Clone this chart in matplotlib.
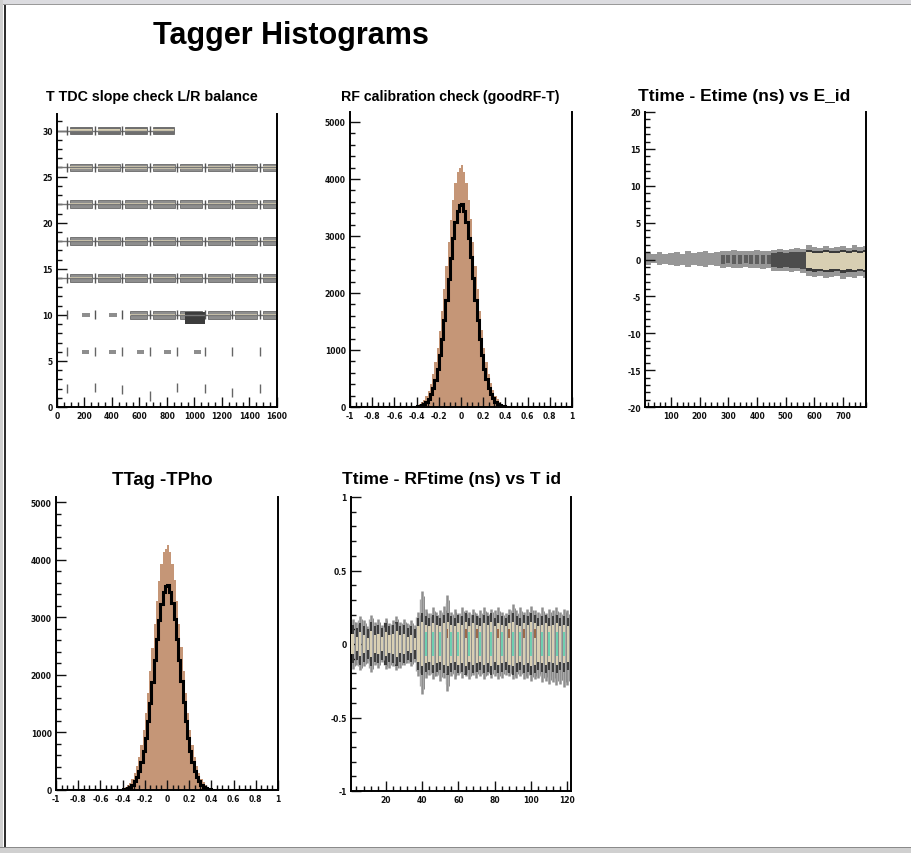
import numpy as np
import matplotlib
matplotlib.use("Agg")
import matplotlib.pyplot as plt
from matplotlib.patches import Rectangle
from matplotlib.ticker import MultipleLocator, FuncFormatter

W, H = 912, 854

# ---------------- data ----------------
# RF calibration check / TTag - TPho : 50 bins of 0.02 between -0.5 and 0.5
hist_edges = np.linspace(-0.5, 0.5, 51)
tan_counts = [2, 4, 7, 12, 20, 33, 53, 84, 130, 196,
              288, 412, 575, 782, 1037, 1339, 1686, 2069, 2475, 2886,
              3280, 3634, 3924, 4129, 4190, 4250, 4130, 3930, 3640, 3290,
              2890, 2480, 2075, 1690, 1345, 1040, 785, 578, 415, 290,
              198, 132, 85, 54, 34, 21, 12, 7, 4, 2]
line_counts = [0, 1, 2, 3, 6, 11, 20, 35, 58, 94,
               148, 226, 335, 482, 672, 909, 1194, 1520, 1879, 2253,
               2621, 2958, 3239, 3441, 3546, 3560, 3445, 3245, 2965, 2630,
               2260, 1885, 1525, 1198, 912, 675, 485, 337, 228, 150,
               95, 59, 36, 21, 12, 6, 3, 2, 1, 0]

# T TDC slope check L/R balance
tdc_rows = [30, 26, 22, 18, 14, 10]
tdc_row_start = [0, 0, 0, 0, 0, 530]
tdc_row_end = [850, 1600, 1600, 1600, 1600, 1600]
tdc_block_x = [95, 295, 495, 695, 895, 1095, 1295, 1495]
tdc_marker_x = [75, 275, 475, 675, 875, 1075, 1275, 1475]
tdc_marker_y2 = [2.0, 2.1, 1.9, 1.2, 2.1, 2.0, 1.6, 2.0]
tdc_dash6_x = [180, 380, 580, 780, 1000]
tdc_dash10_x = [180, 380]
tdc_dark_x = [930, 1080]

# Ttime - Etime (ns) vs E_id
et_x = list(range(20, 781, 20))
et_hi = [0.9, 0.7, 1.0, 0.8, 0.9, 1.0, 0.8, 1.1, 0.9, 1.0, 1.1, 0.9, 1.0,
         1.2, 1.1, 1.3, 1.2, 1.1, 1.2, 1.3, 1.2, 1.1,
         1.3, 1.4, 1.3, 1.4, 1.5, 1.4,
         1.9, 1.7, 1.6, 1.8, 1.6, 1.7, 1.8, 1.6, 1.9, 1.7, 1.8]
et_lo = [-0.7, -0.5, -0.8, -0.6, -0.7, -0.9, -0.7, -1.0, -0.8, -0.9, -1.0, -0.8, -0.9,
         -1.1, -1.0, -1.2, -1.1, -1.0, -1.2, -1.1, -1.3, -1.2,
         -1.5, -1.6, -1.5, -1.7, -1.6, -1.8,
         -2.2, -2.4, -2.3, -2.5, -2.4, -2.3, -2.6, -2.4, -2.5, -2.3, -2.5]
et_level = [0, 0, 0, 0, 0, 0, 0, 0, 0, 0, 0, 0, 0,
            1, 1, 1, 1, 1, 1, 1, 1, 1,
            2, 2, 2, 2, 2, 2,
            3, 3, 3, 3, 3, 3, 3, 3, 3, 3, 3]

# Ttime - RFtime (ns) vs T id
rf_id = list(range(2, 121, 2))
rf_hi = [0.17, 0.15, 0.19, 0.16, 0.12, 0.20, 0.15, 0.17, 0.13, 0.18,
         0.14, 0.16, 0.19, 0.15, 0.17, 0.14, 0.16, 0.13,
         0.22, 0.36, 0.24, 0.21, 0.25, 0.22, 0.23, 0.26, 0.33, 0.22,
         0.24, 0.21, 0.25, 0.23, 0.22, 0.24, 0.21, 0.23, 0.25, 0.22,
         0.24, 0.23, 0.25, 0.22, 0.21, 0.24, 0.27, 0.23, 0.25, 0.22,
         0.24, 0.26, 0.23, 0.22, 0.25, 0.21, 0.24, 0.23, 0.25, 0.22,
         0.24, 0.23]
rf_lo = [-0.17, -0.14, -0.18, -0.15, -0.13, -0.19, -0.14, -0.16, -0.12, -0.17,
         -0.16, -0.15, -0.18, -0.16, -0.14, -0.13, -0.15, -0.12,
         -0.22, -0.34, -0.23, -0.21, -0.24, -0.22, -0.25, -0.23, -0.32, -0.22,
         -0.24, -0.21, -0.23, -0.22, -0.24, -0.21, -0.23, -0.22, -0.24, -0.21,
         -0.23, -0.22, -0.24, -0.23, -0.21, -0.22, -0.24, -0.23, -0.22, -0.24,
         -0.23, -0.25, -0.24, -0.23, -0.26, -0.25, -0.27, -0.26, -0.28, -0.27,
         -0.29, -0.28]
rf_core = [0.07, 0.05, 0.08, 0.06, 0.04, 0.09, 0.06, 0.07, 0.05, 0.08,
           0.06, 0.07, 0.09, 0.06, 0.07, 0.05, 0.06, 0.04,
           0.12, 0.15, 0.13, 0.12, 0.14, 0.13, 0.12, 0.14, 0.15, 0.13,
           0.12, 0.14, 0.13, 0.15, 0.12, 0.14, 0.13, 0.12, 0.14, 0.13,
           0.15, 0.12, 0.14, 0.13, 0.12, 0.14, 0.15, 0.13, 0.12, 0.14,
           0.13, 0.15, 0.14, 0.12, 0.13, 0.14, 0.12, 0.13, 0.14, 0.12,
           0.13, 0.12]
rf_teal_id = [42, 46, 50, 56, 60, 66, 72, 78, 84, 90, 94, 100, 106, 110, 114, 118]
rf_brown_id = [54, 64, 70, 82, 88, 96, 102]

GRAY = "#8e8e8e"
BEIGE = "#d8cfb3"
TAN = "#c59677"
TITLE_FONT = ["Liberation Sans", "DejaVu Sans"]

fig = plt.figure(figsize=(W / 100, H / 100), dpi=100)
fig.patch.set_facecolor("white")


def px_axes(l, t, r, b):
    return fig.add_axes([l / W, 1 - b / H, (r - l) / W, (b - t) / H])


def fmt(v, _):
    v = round(v, 3)
    if v == 0:
        return "0"
    return f"{v:g}"


def root_style(ax, xmaj, xmin, ymaj, ymin):
    ax.spines["top"].set_visible(False)
    for s in ["left", "bottom", "right"]:
        ax.spines[s].set_linewidth(1.4)
    ax.xaxis.set_major_locator(MultipleLocator(xmaj))
    ax.xaxis.set_minor_locator(MultipleLocator(xmin))
    ax.yaxis.set_major_locator(MultipleLocator(ymaj))
    ax.yaxis.set_minor_locator(MultipleLocator(ymin))
    ax.xaxis.set_major_formatter(FuncFormatter(fmt))
    ax.yaxis.set_major_formatter(FuncFormatter(fmt))
    ax.tick_params(which="both", direction="in", top=False, right=False,
                   width=1, labelsize=5.5, pad=3, colors="#111111")
    ax.tick_params(which="major", length=7)
    ax.tick_params(which="minor", length=3.5)
    for lab in ax.get_xticklabels() + ax.get_yticklabels():
        lab.set_fontweight("bold")


def histo_panel(ax):
    centres = (hist_edges[:-1] + hist_edges[1:]) / 2
    ax.bar(centres, tan_counts, width=0.02, color=TAN, lw=0, zorder=1)
    ax.stairs(line_counts, hist_edges, color="black", lw=2.2, zorder=2)
    ax.plot([-1, hist_edges[0]], [0, 0], color="black", lw=2.2)
    ax.plot([hist_edges[-1], 1], [0, 0], color="black", lw=2.2)
    ax.set_xlim(-1, 1)
    root_style(ax, 0.2, 0.05, 1000, 200)


# ---- panel 1: T TDC slope check
ax1 = px_axes(57, 115, 277, 408)
for r, x0, x1 in zip(tdc_rows, tdc_row_start, tdc_row_end):
    fc = "#6e6e6e" if r == 30 else GRAY
    ax1.hlines(r, x0, x1, color="#777777", lw=1)
    for b in tdc_block_x:
        if b + 160 > x0 and b < x1:
            s = max(b, x0)
            w = min(b + 160, x1) - s
            ax1.add_patch(Rectangle((s, r - 0.42), w, 0.84, fc=fc, ec="#555555", lw=0.5))
            ax1.add_patch(Rectangle((s, r - 0.12), w, 0.24, fc=BEIGE, lw=0))
    for m in tdc_marker_x:
        if m < x1:
            ax1.vlines(m, r - 0.5, r + 0.5, color="#555555", lw=1)
for d in tdc_dash10_x:
    ax1.add_patch(Rectangle((d, 9.75), 60, 0.5, fc=GRAY, lw=0))
ax1.add_patch(Rectangle((tdc_dark_x[0], 9.0), tdc_dark_x[1] - tdc_dark_x[0], 1.3, fc="#3c3c3c", lw=0))
for d in tdc_dash6_x:
    ax1.add_patch(Rectangle((d, 5.8), 50, 0.4, fc=GRAY, lw=0))
ax1.vlines(tdc_marker_x, 5.5, 6.5, color="#666666", lw=1)
ax1.vlines(tdc_marker_x, np.array(tdc_marker_y2) - 0.5, np.array(tdc_marker_y2) + 0.5,
           color="#666666", lw=1)
ax1.set_xlim(0, 1600)
ax1.set_ylim(0, 31.8)
root_style(ax1, 200, 50, 5, 1)

# ---- panel 2: RF calibration check
ax2 = px_axes(350, 113, 572, 408)
histo_panel(ax2)
ax2.set_ylim(0, 5175)

# ---- panel 3: Ttime - Etime vs E_id
ax3 = px_axes(645, 113, 866, 408)
ex = np.array(et_x)
ehi = np.array(et_hi)
elo = np.array(et_lo)
lvl = np.array(et_level)
ax3.bar(ex, ehi - elo, bottom=elo, width=20, color="#979797", lw=0)
m1 = lvl == 1
ax3.bar(ex[m1], (ehi[m1] - elo[m1]) * 0.5, bottom=elo[m1] * 0.5, width=14, color="#5e5e5e", lw=0)
m2 = lvl == 2
ax3.bar(ex[m2], (ehi[m2] - elo[m2]) * 0.7, bottom=elo[m2] * 0.7, width=20, color="#4c4c4c", lw=0)
m3 = lvl == 3
ax3.bar(ex[m3], (ehi[m3] - elo[m3]) * 0.68, bottom=elo[m3] * 0.68, width=20, color="#3a3a3a", lw=0)
ax3.bar(ex[m3], (ehi[m3] - elo[m3]) * 0.55, bottom=elo[m3] * 0.55, width=20, color=BEIGE, lw=0)
ax3.set_xlim(9, 780)
ax3.set_ylim(-20, 20)
root_style(ax3, 100, 20, 5, 1)

# ---- panel 4: TTag - TPho
ax4 = px_axes(56, 498, 278, 791)
histo_panel(ax4)
ax4.set_ylim(0, 5090)

# ---- panel 5: Ttime - RFtime vs T id
ax5 = px_axes(351, 498, 571, 792)
rid = np.array(rf_id)
core = np.array(rf_core)
lo = np.array(rf_lo)
hi = np.array(rf_hi)
ax5.vlines(rid, lo, hi, color=GRAY, lw=1.8, zorder=1)
ax5.vlines(rid - 1, lo * 0.85, hi * 0.85, color="#a8a8a8", lw=1.0, zorder=1)
ax5.bar(rid, 2 * (core + 0.06), bottom=-(core + 0.06), width=1.3, color="#3d3d3d", lw=0, zorder=3)
ax5.bar(rid, 2 * core, bottom=-core, width=1.5, color=BEIGE, lw=0, zorder=4)
ax5.bar(rf_teal_id, 0.16, bottom=-0.08, width=1.2, color="#6fcfb0", lw=0, zorder=5)
ax5.bar(rf_brown_id, 0.06, bottom=0.04, width=1.2, color="#9c6a48", lw=0, zorder=5)
ax5.vlines(rid + 1, lo * 0.9, hi * 0.9, color="#8a8a8a", lw=0.7, zorder=6)
ax5.set_xlim(1, 122)
ax5.set_ylim(-1, 1)
root_style(ax5, 20, 4, 0.5, 0.1)

# ---- titles
fig.text(291 / W, 1 - 36 / H, "Tagger Histograms", ha="center", va="center",
         fontsize=22, fontweight="bold", family=TITLE_FONT)
titles = [("T TDC slope check L/R balance", 152, 97, 10.3),
          ("RF calibration check (goodRF-T)", 450, 97, 10.2),
          ("Ttime - Etime (ns) vs E_id", 744, 97, 12.5),
          ("TTag -TPho", 162, 481, 13.3),
          ("Ttime - RFtime (ns) vs T id", 452, 480, 12.6)]
for txt, x, y, fs in titles:
    fig.text(x / W, 1 - y / H, txt, ha="center", va="center",
             fontsize=fs, fontweight="bold", family=TITLE_FONT)

# ---- window frame
fig.add_artist(Rectangle((0, 1 - 5 / H), 1, 5 / H, transform=fig.transFigure,
                         fc="#dcdce0", ec="none"))
fig.add_artist(Rectangle((0, 1 - 6 / H), 1, 1 / H, transform=fig.transFigure,
                         fc="#9a9a9a", ec="none"))
fig.add_artist(Rectangle((0, 0), 3 / W, 1, transform=fig.transFigure,
                         fc="#d0d0d0", ec="none"))
fig.add_artist(Rectangle((4 / W, 0), 2 / W, 1 - 6 / H, transform=fig.transFigure,
                         fc="#303030", ec="none"))
fig.add_artist(Rectangle((0, 0), 1, 6 / H, transform=fig.transFigure,
                         fc="#d0d0d0", ec="none"))
fig.add_artist(Rectangle((0, 5 / H), 1, 1.5 / H, transform=fig.transFigure,
                         fc="#8a8a8a", ec="none"))

fig.savefig("out.png", dpi=100)
